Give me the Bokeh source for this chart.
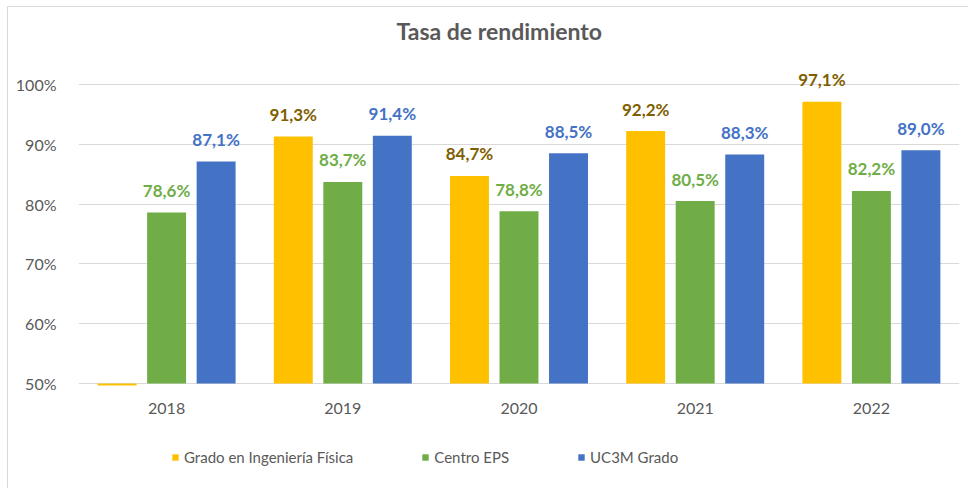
from bokeh.plotting import figure
from bokeh.models import (ColumnDataSource, FactorRange, Range1d, Legend, LegendItem,
                          FixedTicker)
from bokeh.transform import dodge
from bokeh.core.properties import value
from bokeh.embed import file_html
from bokeh.resources import INLINE

# ---- data ----
years = ["2018", "2019", "2020", "2021", "2022"]
grado = [49.7, 91.3, 84.7, 92.2, 97.1]
centro = [78.6, 83.7, 78.8, 80.5, 82.2]
uc3m = [87.1, 91.4, 88.5, 88.3, 89.0]
series_names = ["Grado en Ingeniería Física", "Centro EPS", "UC3M Grado"]
y_ticks = [50, 60, 70, 80, 90, 100]
title_text = "Tasa de rendimiento"

# ---- style ----
FONT = "Lato"
GRAY = "#595959"
bar_colors = ["#FFC000", "#70AD47", "#4472C4"]
label_colors = ["#7F6000", "#70AD47", "#4472C4"]
offsets = [-0.281, 0.0, 0.281]
axis_min = y_ticks[0]

p = figure(x_range=FactorRange(*years), y_range=Range1d(32.3, 106),
           width=961, height=482, output_backend="svg", toolbar_location=None,
           min_border_left=70, min_border_right=10, min_border_top=41,
           min_border_bottom=0, title=title_text)
p.margin = (6, 0, 0, 7)
p.styles = {"border-left": "1px solid #d9d9d9", "border-top": "1px solid #d9d9d9"}
p.outline_line_color = None
p.background_fill_color = "white"
p.border_fill_color = "white"

p.title.align = "left"
p.title.offset = 318
p.title.text_font = FONT
p.title.text_font_size = "23px"
p.title.text_font_style = "bold"
p.title.text_color = GRAY
p.title.standoff = 8

items = []
for vals, name, col, lcol, off in zip([grado, centro, uc3m], series_names,
                                      bar_colors, label_colors, offsets):
    src = ColumnDataSource(dict(year=years, val=vals))
    r = p.vbar(x=dodge("year", off, range=p.x_range), top="val", bottom=axis_min,
               width=0.221, source=src, fill_color=col, line_color=None)
    items.append(LegendItem(label=name, renderers=[r]))
    ly = [y for y, v in zip(years, vals) if v >= axis_min]
    lv = [v for v in vals if v >= axis_min]
    lsrc = ColumnDataSource(dict(year=ly, val=lv,
                                 txt=[f"{v:.1f}%".replace(".", ",") for v in lv]))
    p.text(x=dodge("year", off, range=p.x_range), y="val", text="txt", source=lsrc,
           text_align="center", text_baseline="middle", y_offset=-22,
           text_font=value(FONT), text_font_size="17px", text_font_style="bold",
           text_color=lcol)

# category labels below the baseline
csrc = ColumnDataSource(dict(year=years, y=[axis_min] * len(years)))
p.text(x="year", y="y", text="year", source=csrc, text_align="center",
       text_baseline="middle", y_offset=25, text_font=value(FONT),
       text_font_size="16px", text_color=GRAY)

p.xaxis.visible = False
p.yaxis.ticker = FixedTicker(ticks=y_ticks)
p.yaxis.major_label_overrides = {t: f"{t}%" for t in y_ticks}
p.yaxis.axis_line_color = None
p.yaxis.major_tick_line_color = None
p.yaxis.minor_tick_line_color = None
p.yaxis.major_label_standoff = 16
p.yaxis.major_label_text_font = FONT
p.yaxis.major_label_text_font_size = "16px"
p.yaxis.major_label_text_color = GRAY

p.xgrid.grid_line_color = None
p.ygrid.ticker = FixedTicker(ticks=y_ticks)
p.ygrid.grid_line_color = "#d9d9d9"
p.ygrid.grid_line_width = 1

legend = Legend(items=items, orientation="horizontal", location=(93, 23),
                label_text_font=FONT, label_text_font_size="15px",
                label_text_color=GRAY, glyph_width=8, glyph_height=8,
                label_standoff=5, spacing=68, padding=0, margin=0,
                border_line_color=None, background_fill_alpha=0)
p.add_layout(legend, "center")

open("out.html", "w").write(file_html(p, INLINE))
